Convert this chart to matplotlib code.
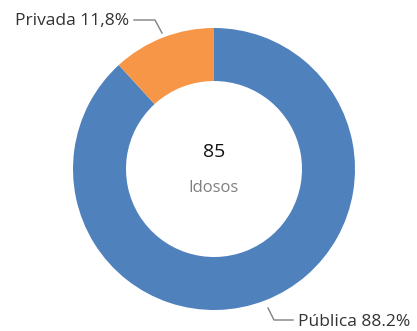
import matplotlib
matplotlib.use("Agg")
import matplotlib.pyplot as plt

labels = ["Pública", "Privada"]
shares = [88.2, 11.8]
label_text = ["Pública 88.2%", "Privada 11,8%"]
total = 85
center_label = "Idosos"
colors = ["#4F81BD", "#F79646"]

W, H = 417, 331
fig = plt.figure(figsize=(W / 100, H / 100), dpi=100)
ax = fig.add_axes([0, 0, 1, 1])

cx, cy, r = 214, 331 - 169, 141
ax.pie(shares, colors=colors, startangle=90, counterclock=False,
       center=(cx, cy), radius=r, frame=True,
       wedgeprops=dict(width=r - 88, linewidth=0))
ax.set_xlim(0, W)
ax.set_ylim(0, H)
ax.axis("off")

plt.rcParams["font.family"] = ["Open Sans", "DejaVu Sans"]
ax.text(cx, cy + 17, str(total), ha="center", va="center", fontsize=14, color="#111111")
ax.text(cx, cy - 19, center_label, ha="center", va="center", fontsize=12, color="#808080")

# leader lines and labels
ax.plot([134, 155, 162], [331 - 20, 331 - 20, 331 - 33], color="#808080", lw=1)
ax.text(129, 331 - 21, label_text[1], ha="right", va="center", fontsize=12.5, color="#333333")
ax.plot([268, 274, 293], [331 - 308, 331 - 320, 331 - 320], color="#808080", lw=1)
ax.text(298, 331 - 322, label_text[0], ha="left", va="center", fontsize=12.5, color="#333333")

fig.savefig("out.png", dpi=100)
